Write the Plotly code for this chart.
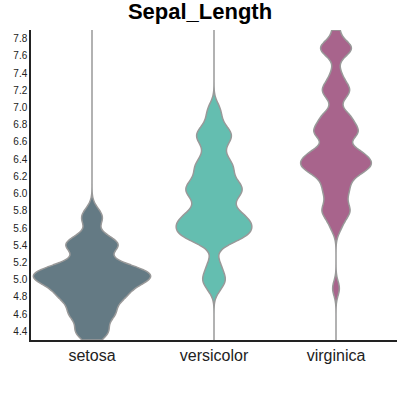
import plotly.graph_objects as go

species = ["setosa", "versicolor", "virginica"]
setosa = [5.1,4.9,4.7,4.6,5.0,5.4,4.6,5.0,4.4,4.9,5.4,4.8,4.8,4.3,5.8,5.7,5.4,5.1,5.7,5.1,
          5.4,5.1,4.6,5.1,4.8,5.0,5.0,5.2,5.2,4.7,4.8,5.4,5.2,5.5,4.9,5.0,5.5,4.9,4.4,5.1,
          5.0,4.5,4.4,5.0,5.1,4.8,5.1,4.6,5.3,5.0]
versicolor = [7.0,6.4,6.9,5.5,6.5,5.7,6.3,4.9,6.6,5.2,5.0,5.9,6.0,6.1,5.6,6.7,5.6,5.8,6.2,5.6,
              5.9,6.1,6.3,6.1,6.4,6.6,6.8,6.7,6.0,5.7,5.5,5.5,5.8,6.0,5.4,6.0,6.7,6.3,5.6,5.5,
              5.5,6.1,5.8,5.0,5.6,5.7,5.7,6.2,5.1,5.7]
virginica = [6.3,5.8,7.1,6.3,6.5,7.6,4.9,7.3,6.7,7.2,6.5,6.4,6.8,5.7,5.8,6.4,6.5,7.7,7.7,6.0,
             6.9,5.6,7.7,6.3,6.7,7.2,6.2,6.1,6.4,7.2,7.4,7.9,6.4,6.3,6.1,7.7,6.3,6.4,6.0,6.9,
             6.7,6.9,5.8,6.8,6.7,6.7,6.3,6.5,6.2,5.9]
values = [setosa, versicolor, virginica]
colors = ["rgba(40,70,85,0.72)", "rgba(40,165,145,0.72)", "rgba(135,40,95,0.72)"]
widths = [0.96, 0.62, 0.58]
y_ticks = [4.4, 4.6, 4.8, 5.0, 5.2, 5.4, 5.6, 5.8, 6.0, 6.2, 6.4, 6.6, 6.8, 7.0, 7.2, 7.4, 7.6, 7.8]

fig = go.Figure()
for name, vals, col, w in zip(species, values, colors, widths):
    fig.add_trace(go.Violin(
        x=[name] * len(vals), y=vals, name=name,
        fillcolor=col, line=dict(color="#999999", width=1.5),
        points=False, bandwidth=0.085, spanmode="manual", span=[4.3, 7.9],
        scalemode="width", width=w, hoveron="violins",
    ))

fig.update_layout(
    width=400, height=400,
    margin=dict(l=31, r=3, t=30, b=60),
    paper_bgcolor="white", plot_bgcolor="white",
    showlegend=False,
    font=dict(family="Liberation Sans, Arial, sans-serif", color="#000"),
    title=dict(text="<b>Sepal_Length</b>", x=0.5, xanchor="center", y=0.972, yanchor="middle",
               font=dict(size=22, color="#000")),
    violingap=0, violinmode="overlay",
)
fig.update_xaxes(
    categoryorder="array", categoryarray=species, range=[-0.5, 2.5],
    showline=True, linecolor="#222", linewidth=1.5, showgrid=False, zeroline=False,
    ticks="", tickfont=dict(size=16, color="#222"),
)
fig.update_yaxes(
    range=[4.3, 7.9], tickvals=y_ticks, ticktext=[f"{v:.1f}" for v in y_ticks],
    showline=True, linecolor="#222", linewidth=1.5, showgrid=False, zeroline=False,
    ticks="", tickfont=dict(size=10, color="#222"),
)
fig.write_html("out.html")
